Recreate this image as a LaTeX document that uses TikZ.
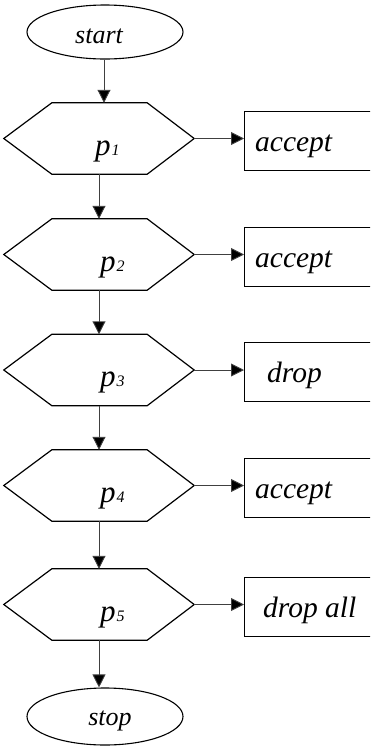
\documentclass[tikz,border=0pt]{standalone}
\usepackage{fontspec}
\setmainfont{Liberation Serif}
\usetikzlibrary{arrows.meta,shapes.geometric,calc}
\begin{document}
\begin{tikzpicture}[x=1pt,y=-1pt,
  term/.style={ellipse,draw,line width=1.1pt,minimum width=156pt,inner sep=0pt},
  hexbox/.style={rectangle,minimum width=190pt,minimum height=71pt,inner sep=0pt},
  outline/.style={line width=1.2pt,line join=miter},
  resbox/.style={rectangle,draw,line width=1.3pt,minimum width=140pt,minimum height=59pt,inner sep=0pt},
  flow/.style={draw=black!75,line width=0.9pt,-{Triangle[length=13pt,width=13pt,fill=black]}},
  txt/.style={inner sep=0pt,font=\fontsize{29.5}{29.5}\selectfont\itshape},
  ptxt/.style={anchor=base west,inner sep=0pt,font=\fontsize{31}{31}\selectfont\itshape},
  endtxt/.style={anchor=base,inner sep=0pt,font=\fontsize{26}{26}\selectfont\itshape},
]
\useasboundingbox (0,0) rectangle (370,748);
\clip (0,0) rectangle (370,748);

% terminals
\node[term,minimum height=54pt] (start) at (105,32) {};
\node[endtxt] (starttext) at (99,43) {start};
\node[term,minimum height=57pt] (stop) at (105,716.5) {};
\node[endtxt] (stoptext) at (110,725) {stop};

% decision hexagons
\foreach \i/\y in {1/138.5,2/254.5,3/370,4/485.5,5/604.5}{
  \node[hexbox] (p\i) at (99,\y) {};
  \draw[outline] (p\i.west) -- ([xshift=48pt]p\i.north west)
    -- ([xshift=-47pt]p\i.north east) -- (p\i.east)
    -- ([xshift=-47pt]p\i.south east) -- ([xshift=48pt]p\i.south west) -- cycle;
}
\newcommand\subidx[1]{\kern1pt{\fontsize{16}{16}\selectfont #1}}
\node[ptxt] (p1text) at (95,155) {p\subidx{1}};
\node[ptxt] (p2text) at (100,271) {p\subidx{2}};
\node[ptxt] (p3text) at (100,386.5) {p\subidx{3}};
\node[ptxt] (p4text) at (100,502) {p\subidx{4}};
\node[ptxt] (p5text) at (100,621) {p\subidx{5}};

% result boxes
\foreach \i/\y in {1/141,2/257,3/372,4/488,5/607}{
  \node[resbox,anchor=west] (r\i) at (244,\y) {};
}
\node[txt,anchor=base west] (r1text) at (255,151) {accept};
\node[txt,anchor=base west] (r2text) at (255,267) {accept};
\node[txt,anchor=base west] (r3text) at (267,382.5) {drop};
\node[txt,anchor=base west] (r4text) at (255,498) {accept};
\node[txt,anchor=base west] (r5text) at (263,617) {drop all};

% connectors
\draw[flow] ([xshift=-1pt]start.south) -- ([xshift=-1pt]start.south |- p1.north);
\draw[flow] (p1.south) -- (p2.north);
\draw[flow] (p2.south) -- (p3.north);
\draw[flow] (p3.south) -- (p4.north);
\draw[flow] (p4.south) -- (p5.north);
\draw[flow] (p5.south) -- (p5.south |- stop.north);
\foreach \i in {1,...,5}{
  \draw[flow] (p\i.east) -- (p\i.east -| r\i.west);
}
\end{tikzpicture}
\end{document}
